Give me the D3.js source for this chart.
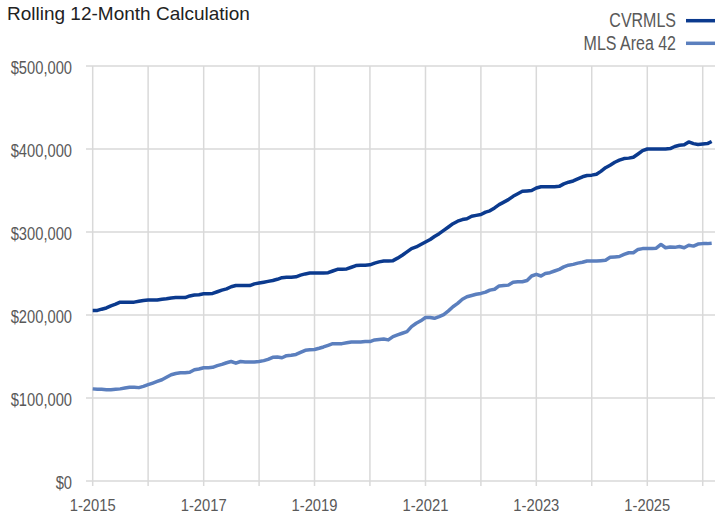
<!DOCTYPE html>
<html lang="en">
  <head>
    <meta charset="utf-8">
    <script src="https://d3js.org/d3.v7.min.js"></script>
    <style>
      body { margin: 0; background: #fff; }
      text { font-family: "Liberation Sans", Arial, sans-serif; }
    </style>
  </head>
  <body>
    <div id="chart">
      <svg width="715" height="515"></svg>
    </div>
    <script type="text/javascript">
      // Monthly series, Jan 2015 onward (values in $1000s)
      var startYear = 2015;
      var cvrmls = [
        205.5, 205.5, 207, 208.5, 211, 213, 215.5, 215.5, 215.5, 215.5, 216.5, 217.5,
        218, 218, 218, 219, 219.5, 220.5, 221, 221, 221, 223, 224, 224.5,
        225.5, 225.5, 226, 228, 230, 231.5, 234, 235.5, 235.5, 235.5, 235.5, 237.5,
        238.5, 239.5, 240.5, 241.5, 243, 245, 245.5, 245.5, 246, 248, 249.5, 250.5,
        250.5, 250.5, 250.5, 251, 253, 255, 255, 255.5, 257.5, 259.5, 260, 260,
        260.5, 262.5, 264, 265, 265, 265.5, 268.5, 272, 276, 280, 282, 285,
        288, 291, 294.5, 298, 302, 306, 310, 313, 315, 316, 319, 320,
        321, 324, 325.5, 329, 333, 336, 339, 343, 346, 349, 349.5, 350,
        353, 354.5, 354.5, 354.5, 354.5, 355, 358, 360, 361.5, 364, 366.5, 368,
        368.5, 369.5, 373, 377.5, 380.5, 384, 386.5, 388.5, 389, 390, 394, 398,
        400, 400, 400, 400, 400, 400.5, 403, 404.5, 405, 408.5, 406.5, 405.5,
        406, 406.5, 409
      ];
      var area42 = [
        111, 110.5, 110.5, 110, 110, 110.5, 111, 112, 113, 113, 112.5, 114,
        116, 118, 120, 122, 125, 128, 129.5, 130.5, 130.5, 131, 134, 135,
        136.5, 136.5, 137, 139, 140.5, 142.5, 144, 142, 144, 143.5, 143.5, 143.5,
        144, 145, 146.5, 149, 149.5, 148.5, 151, 151.5, 152.5, 155, 157.5, 158,
        158.5, 160, 161.5, 163.5, 165.5, 165.5, 165.5, 166.5, 167.5, 167.5, 167.5, 168,
        168, 170, 170.5, 171, 170, 174, 176, 178, 180, 186, 190, 193,
        197, 197, 196, 198, 200.5, 205, 210, 214, 219, 222, 223.5, 225,
        226, 227.5, 230, 231, 235, 235.5, 236, 239.5, 240, 240, 241.5, 247,
        249, 247, 250, 251, 253, 255, 258, 260, 261, 262.5, 263.5, 265,
        265, 265, 265.5, 266, 269.5, 270, 270.5, 273, 275, 275, 279, 280,
        280, 280, 280.5, 285, 281, 282, 281.5, 282.5, 281, 284, 283, 285.5,
        286, 286, 286.5
      ];
      var seriesNames = ["CVRMLS", "MLS Area 42"];
      var seriesColors = ["#0b3a8e", "#5b7fbe"];
      var yTicks = [0, 100000, 200000, 300000, 400000, 500000];
      var xLabelYears = [2015, 2017, 2019, 2021, 2023, 2025];
      var gridYears = d3.range(2015, 2027);

      var svg = d3.select("svg"),
        width = +svg.attr("width"),
        height = +svg.attr("height");
      var margin = {top: 66, right: 0, bottom: 34, left: 86};
      var innerHeight = height - margin.top - margin.bottom;

      var dates = cvrmls.map(function(d, i) { return new Date(startYear, i, 1); });

      var xScale = d3.scaleTime()
        .domain([new Date(2015, 0, 1), new Date(2025, 0, 1)])
        .range([92.7, 647.3]);
      var yScale = d3.scaleLinear()
        .domain([0, 500000])
        .range([margin.top + innerHeight, margin.top]);

      // Horizontal gridlines
      svg.append("g").selectAll("line")
        .data(yTicks)
        .enter().append("line")
        .attr("x1", margin.left)
        .attr("x2", width)
        .attr("y1", function(d) { return yScale(d); })
        .attr("y2", function(d) { return yScale(d); })
        .style("stroke", "#d9d9d9")
        .style("stroke-width", 1.5);

      // Vertical gridlines + ticks below baseline
      svg.append("g").selectAll("line")
        .data(gridYears)
        .enter().append("line")
        .attr("x1", function(d) { return xScale(new Date(d, 0, 1)); })
        .attr("x2", function(d) { return xScale(new Date(d, 0, 1)); })
        .attr("y1", yScale(500000))
        .attr("y2", yScale(0) + 5)
        .style("stroke", "#d9d9d9")
        .style("stroke-width", 1.5);

      // Y labels (condensed look via horizontal scale)
      svg.append("g").selectAll("text")
        .data(yTicks)
        .enter().append("text")
        .attr("transform", function(d) { return "translate(72," + (yScale(d) + 7.5) + ") scale(0.84,1)"; })
        .attr("text-anchor", "end")
        .style("font-size", "17.5px")
        .style("fill", "#595959")
        .text(function(d) { return "$" + d3.format(",")(d); });

      // X labels
      svg.append("g").selectAll("text")
        .data(xLabelYears)
        .enter().append("text")
        .attr("transform", function(d) { return "translate(" + xScale(new Date(d, 0, 1)) + "," + (yScale(0) + 30) + ") scale(0.88,1)"; })
        .attr("text-anchor", "middle")
        .style("font-size", "16.8px")
        .style("fill", "#595959")
        .text(function(d) { return "1-" + d; });

      var line = d3.line()
        .x(function(d, i) { return xScale(dates[i]); })
        .y(function(d) { return yScale(d * 1000); });

      [cvrmls, area42].forEach(function(s, k) {
        svg.append("path")
          .datum(s)
          .attr("d", line)
          .style("fill", "none")
          .style("stroke", seriesColors[k])
          .style("stroke-width", 3.5)
          .style("stroke-linejoin", "round");
      });

      // Title
      svg.append("text")
        .attr("x", 7)
        .attr("y", 19.5)
        .style("font-size", "19px")
        .style("fill", "#222")
        .text("Rolling 12-Month Calculation");

      // Legend
      var legend = svg.append("g").selectAll("g")
        .data(seriesNames)
        .enter().append("g")
        .attr("transform", function(d, i) { return "translate(0," + (20.7 + i * 22.6) + ")"; });
      legend.append("text")
        .attr("transform", "translate(676,6.5) scale(0.82,1)")
        .attr("text-anchor", "end")
        .style("font-size", "19.5px")
        .style("fill", "#595959")
        .text(function(d) { return d; });
      legend.append("line")
        .attr("x1", 686)
        .attr("x2", 715)
        .style("stroke", function(d, i) { return seriesColors[i]; })
        .style("stroke-width", 3.5);
    </script>
  </body>
</html>
